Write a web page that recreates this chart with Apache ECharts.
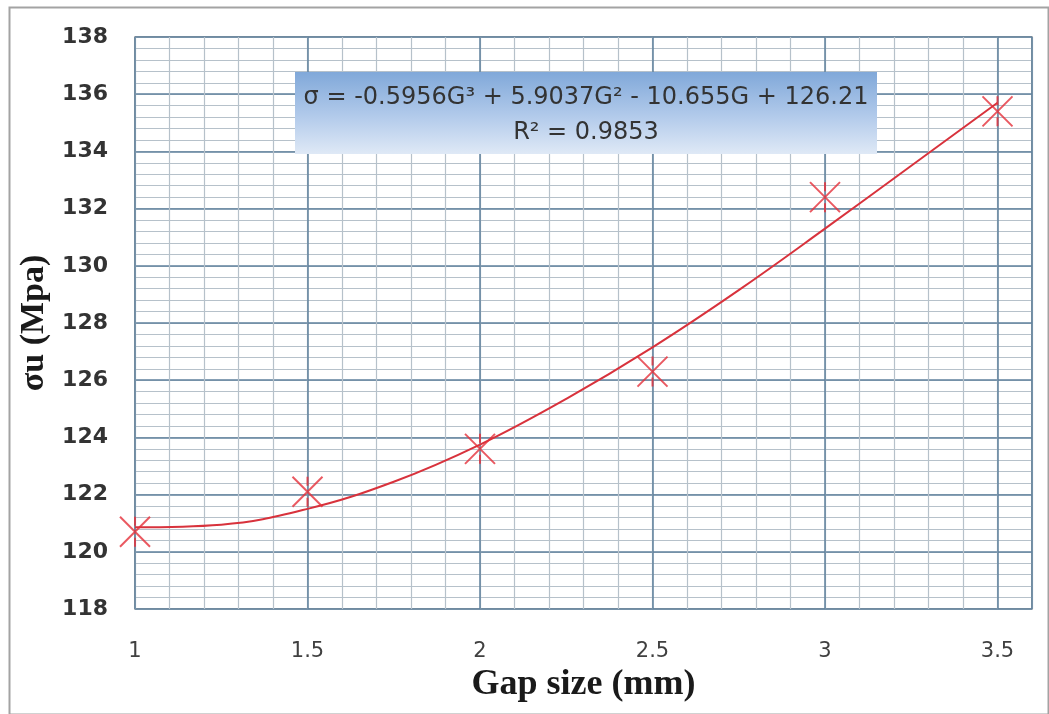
<!DOCTYPE html>
<html>
<head>
<meta charset="utf-8">
<script src="https://cdn.jsdelivr.net/npm/echarts@6/dist/echarts.min.js"></script>
<style>html,body{margin:0;padding:0;background:#fff;}#c{width:1049px;height:714px;}</style>
</head>
<body>
<div id="c"></div>
<script>
// Measured points (Gap size in mm, ultimate stress in MPa)
const gapSizes = [1, 1.5, 2, 2.5, 3, 3.5];
const sigmaU = [120.7, 122.1, 123.6, 126.3, 132.4, 135.4];
// Trend line values
const trendX = [1, 1.25, 1.5, 1.75, 2, 2.25, 2.5, 2.75, 3, 3.25, 3.5];
const trendY = [120.86, 120.95, 121.5, 122.45, 123.75, 125.35, 127.15, 129.15, 131.3, 133.5, 135.7];
const xTickLabels = ['1', '1.5', '2', '2.5', '3', '3.5'];
const yTickLabels = ['118', '120', '122', '124', '126', '128', '130', '132', '134', '136', '138'];
const equationLine1 = 'σ = -0.5956G³ + 5.9037G² - 10.655G + 126.21';
const equationLine2 = 'R² = 0.9853';

const chart = echarts.init(document.getElementById('c'), null, {renderer: 'canvas'});
const minorColor = '#b6c1ca';
const majorColor = '#5f819c';
const starPath = 'path://M0,0L20,20M20,0L0,20M10,0L10,6M10,14L10,20';

chart.setOption({
  backgroundColor: '#ffffff',
  animation: false,
  grid: {left: 135, right: 17, top: 37, bottom: 105, show: true, outerBoundsMode: 'none', containLabel: false,
         borderColor: '#8c8c8c', borderWidth: 1.5, backgroundColor: 'transparent'},
  xAxis: [
    {type: 'value', min: 1, max: 3.6, interval: 0.1, position: 'bottom',
     axisLine: {show: false}, axisTick: {show: false}, axisLabel: {show: false},
     splitLine: {show: true, lineStyle: {color: minorColor, width: 1.2}}},
    {type: 'value', min: 1, max: 3.6, interval: 0.5, position: 'bottom',
     name: 'Gap size (mm)', nameLocation: 'middle', nameGap: 54,
     nameTextStyle: {fontFamily: 'Liberation Serif', fontWeight: 'bold', fontSize: 36, color: '#1a1a1a'},
     axisLine: {show: false}, axisTick: {show: false},
     axisLabel: {showMaxLabel: false, margin: 32, fontFamily: 'DejaVu Sans', fontSize: 21, color: '#404040',
       formatter: v => { const i = Math.round((v - 1) / 0.5); return xTickLabels[i] !== undefined ? xTickLabels[i] : ''; }},
     splitLine: {show: true, lineStyle: {color: majorColor, width: 1.5}}}
  ],
  yAxis: [
    {type: 'value', min: 118, max: 138, interval: 0.4, position: 'left',
     axisLine: {show: false}, axisTick: {show: false}, axisLabel: {show: false},
     splitLine: {show: true, lineStyle: {color: minorColor, width: 1.2}}},
    {type: 'value', min: 118, max: 138, interval: 2, position: 'left',
     name: 'σu (Mpa)', nameLocation: 'middle', nameGap: 84, nameRotate: 90,
     nameTextStyle: {fontFamily: 'Liberation Serif', fontWeight: 'bold', fontSize: 34, color: '#1a1a1a'},
     axisLine: {show: false}, axisTick: {show: false},
     axisLabel: {margin: 27, fontFamily: 'DejaVu Sans', fontWeight: 'bold', fontSize: 22, color: '#333333',
       formatter: v => { const i = Math.round((v - 118) / 2); return yTickLabels[i] !== undefined ? yTickLabels[i] : ''; }},
     splitLine: {show: true, lineStyle: {color: majorColor, width: 1.5}}}
  ],
  series: [
    {type: 'line', xAxisIndex: 1, yAxisIndex: 1, smooth: 0.4, showSymbol: false, z: 3,
     lineStyle: {color: '#d8323c', width: 2},
     data: trendX.map((x, i) => [x, trendY[i]])},
    {type: 'scatter', xAxisIndex: 1, yAxisIndex: 1, symbol: starPath, symbolSize: 30, z: 4,
     itemStyle: {color: 'rgba(0,0,0,0)', borderColor: '#e5303a', borderWidth: 2},
     data: gapSizes.map((x, i) => [x, sigmaU[i]])}
  ],
  graphic: [
    {type: 'rect', left: 7, top: 5, z: 0, silent: true,
     shape: {width: 1039, height: 707},
     style: {fill: 'none', stroke: '#a3a3a3', lineWidth: 2}},
    {type: 'rect', left: 295, top: 72, z: 10,
     shape: {x: 0, y: 0, width: 582, height: 82},
     style: {fill: {type: 'linear', x: 0, y: 0, x2: 0, y2: 82, global: true,
       colorStops: [{offset: 0, color: '#80a8d9'}, {offset: 0.55, color: '#b3cbeb'}, {offset: 1, color: '#dfe9f6'}]}}},
    {type: 'text', x: 586, y: 98, z: 11,
     style: {text: equationLine1, font: '24px "DejaVu Sans"', fill: '#333333', align: 'center', verticalAlign: 'middle'}},
    {type: 'text', x: 586, y: 133, z: 11,
     style: {text: equationLine2, font: '24px "DejaVu Sans"', fill: '#333333', align: 'center', verticalAlign: 'middle'}}
  ]
});
</script>
</body>
</html>
